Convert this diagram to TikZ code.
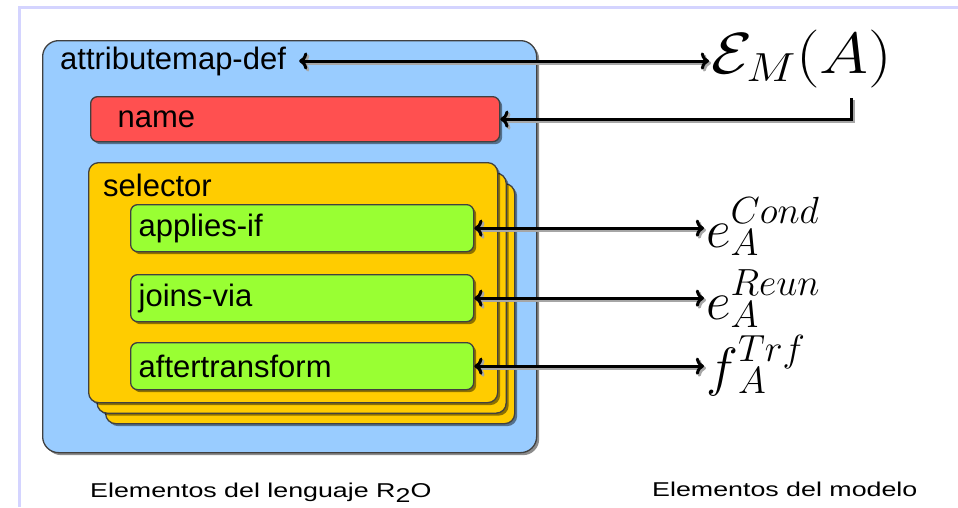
\RequirePackage{fix-cm}
\documentclass[tikz,border=0pt]{standalone}
\usepackage{fontspec}
\setmainfont{Liberation Sans}
\newfontfamily\widesans[FakeStretch=1.34]{Liberation Sans}
\usetikzlibrary{arrows.meta,shadows}

\definecolor{outerblue}{HTML}{99CCFF}
\definecolor{namered}{HTML}{FF5050}
\definecolor{selorange}{HTML}{FFCC00}
\definecolor{leafgreen}{HTML}{99FF33}
\definecolor{framelav}{HTML}{D4D4FF}
\definecolor{edgegray}{HTML}{404040}

\tikzset{
  box/.style={draw=edgegray, line width=1.3pt, inner sep=0pt, anchor=north west,
    drop shadow={shadow xshift=2.5pt, shadow yshift=-2.5pt, fill=black, opacity=0.45}},
  outerbox/.style={box, fill=outerblue, rounded corners=16pt},
  namebox/.style={box, fill=namered, rounded corners=7pt, align=left,
    font=\fontsize{31}{36}\selectfont},
  selbox/.style={box, fill=selorange, rounded corners=10pt,
    minimum width=409pt, minimum height=240pt},
  leafbox/.style={box, fill=leafgreen, rounded corners=7pt, align=left,
    inner xsep=8pt, text width=327pt, minimum height=47pt,
    font=\fontsize{31}{36}\selectfont},
  boxlabel/.style={inner xsep=6pt, inner ysep=0pt, font=\fontsize{31}{36}\selectfont},
  bigmath/.style={inner xsep=2pt, inner ysep=0pt, anchor=base west,
    font=\fontsize{58}{66}\selectfont},
  modmath/.style={inner xsep=2pt, inner ysep=0pt, anchor=base west,
    font=\fontsize{54}{60}\selectfont},
  caption/.style={inner sep=0pt, anchor=base west,
    font=\widesans\fontsize{20}{24}\selectfont},
  link/.style={line width=3pt, arrows={Straight Barb[length=15pt,width=21pt]-Straight Barb[length=15pt,width=21pt]}},
  frameline/.style={draw=framelav, line width=3pt}
}

% a connector with its soft grey copy drawn underneath
\newcommand\linkpair[2]{%
  \begin{scope}[transform canvas={shift={(2pt,-2pt)}}]
    \draw[link, draw=black!35, #1] #2;
  \end{scope}
  \draw[link, #1] #2;}

% symbol with a raised superscript and a shallow subscript
\newcommand\supsub[3]{#1\rlap{\raisebox{4pt}{$^{#2}$}}_{#3}}

\begin{document}
\begin{tikzpicture}[x=1pt,y=-1pt]
\useasboundingbox (0,0) rectangle (958,507);

% page frame
\draw[frameline] (958,7.5) -- (19.5,7.5) -- (19.5,507);

% language elements
\node[outerbox, minimum width=494pt, minimum height=412pt] (def) at (42,40) {};
\node[boxlabel, anchor=west, inner xsep=13pt] (attr) at (47,61) {attributemap-def};
\node[namebox, inner xsep=27pt, text width=355pt, minimum height=45pt] (name) at (90,96) {name};

\node[selbox] (sel3) at (105,183) {};
\node[selbox] (sel2) at (96.5,172.5) {};
\node[selbox] (sel) at (88,162) {};
\node[boxlabel, anchor=west] (sellabel) at (97,185) {selector};

\node[leafbox] (cond) at (130,204) {applies-if};
\node[leafbox] (reun) at (130,274) {joins-via};
\node[leafbox] (trf) at (130,342) {aftertransform};

% model elements
\node[bigmath] (EM) at (709,73) {\scalebox{1.15}[1]{$\mathcal{E}_M(A)$}};
\coordinate (emfoot) at (851,98);
\node[modmath] (econd) at (704,247) {$\supsub{e}{Cond}{A}$};
\node[modmath] (ereun) at (704,319) {$\supsub{e}{Reun}{A}$};
\node[modmath] (ftrf) at (704,385) {$\supsub{f}{Trf}{A}$};

% correspondences
\linkpair{<->}{(attr.east) -- (attr.east -| EM.west)}
\linkpair{->}{(emfoot) |- (name.east)}
\linkpair{<->}{(cond.east) -- (cond.east -| econd.west)}
\linkpair{<->}{(reun.east) -- (reun.east -| ereun.west)}
\linkpair{<->}{(trf.east) -- (trf.east -| ftrf.west)}

% captions
\node[caption] (langcap) at (90,497) {Elementos del lenguaje R\raisebox{-5pt}{2}O};
\node[caption] (modcap) at (652,496) {Elementos del modelo};
\end{tikzpicture}
\end{document}
